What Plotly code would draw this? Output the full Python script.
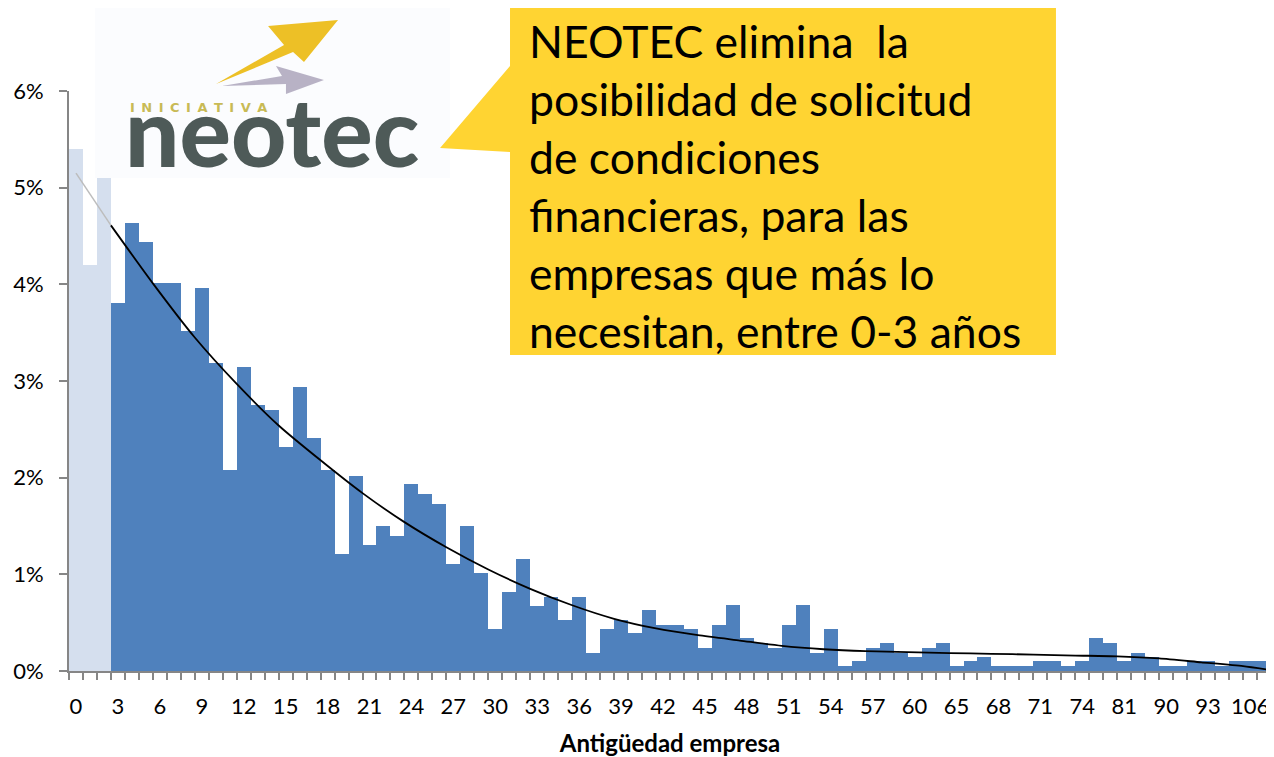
import plotly.graph_objects as go

# company age (years) for each bar, and share of companies (%)
ages = list(range(0, 63)) + [65, 66, 67, 68, 69, 70, 71, 72, 73, 74, 76, 78, 81,
                             83, 86, 90, 91, 92, 93, 96, 100, 106, 110]
share = [5.40, 4.20, 5.10, 3.81, 4.63, 4.44, 4.01, 4.01, 3.52, 3.96,
         3.19, 2.08, 3.14, 2.75, 2.70, 2.32, 2.94, 2.41, 2.08, 1.21,
         2.02, 1.30, 1.50, 1.40, 1.93, 1.83, 1.73, 1.11, 1.50, 1.01,
         0.43, 0.82, 1.16, 0.67, 0.77, 0.53, 0.77, 0.19, 0.43, 0.53,
         0.39, 0.63, 0.48, 0.48, 0.43, 0.24, 0.48, 0.68, 0.34, 0.29,
         0.24, 0.48, 0.68, 0.19, 0.43, 0.05, 0.10, 0.24, 0.29, 0.19,
         0.14, 0.24, 0.29, 0.05, 0.10, 0.14, 0.05, 0.05, 0.05, 0.10,
         0.10, 0.05, 0.10, 0.34, 0.29, 0.10, 0.19, 0.14, 0.05, 0.05,
         0.10, 0.10, 0.05, 0.10, 0.10, 0.10]
tick_ages = [0, 3, 6, 9, 12, 15, 18, 21, 24, 27, 30, 33, 36, 39, 42, 45, 48,
             51, 54, 57, 60, 65, 68, 71, 74, 81, 90, 93, 106]
excluded_max_age = 2  # 0-3 years: no access to NEOTEC

# polynomial trend line as drawn (position in bar units, %)
trend_head_pos = [0, 1.25, 2.5]
trend_head_val = [5.15, 4.88, 4.61]
trend_pos = [2.5, 5.5, 8.5, 11.5, 14.5, 17.5, 20.5, 23.5, 26.5, 29.5, 32.5, 35.5,
             38.5, 41.5, 44.5, 47.5, 50.5, 53.5, 56.5, 59.5, 62.5, 65.5, 68.5,
             71.5, 74.5, 77.5, 80.5, 83.5, 85.2]
trend_val = [4.61, 4.01, 3.45, 2.97, 2.54, 2.18, 1.84, 1.54, 1.28, 1.05, 0.85, 0.68,
             0.54, 0.44, 0.37, 0.315, 0.26, 0.225, 0.205, 0.195, 0.185, 0.178, 0.17,
             0.16, 0.152, 0.13, 0.09, 0.05, 0.015]

callout_lines = ["NEOTEC elimina  la", "posibilidad de solicitud", "de condiciones",
                 "financieras, para las", "empresas que más lo",
                 "necesitan, entre 0-3 años"]

FONT = "Lato, 'Open Sans', sans-serif"
AXIS = "#868686"

# the page body adds an 8px margin, so the figure is drawn 8px in from the corner
OFF = 8
W, H = 1274 - OFF, 757 - OFF
# plot area in page pixels: 69..1271 x 91..671
L, T, PW, PH = 69 - OFF, 91 - OFF, 1202, 580


def px(x):
    return (x - OFF - L) / PW


def py(y):
    return (T + PH - (y - OFF)) / PH


def path(points):
    return "M " + " L ".join(f"{px(x):.4f},{py(y):.4f}" for x, y in points) + " Z"


pos = list(range(len(ages)))
colors = ["#D5DFEE" if a <= excluded_max_age else "#4F81BD" for a in ages]

fig = go.Figure()
fig.add_trace(go.Bar(x=pos, y=share, marker=dict(color=colors, line_width=0),
                     hoverinfo="skip", showlegend=False))
fig.add_trace(go.Scatter(x=trend_head_pos, y=trend_head_val, mode="lines",
                         line=dict(color="#BDBDBD", width=1.5), showlegend=False))
fig.add_trace(go.Scatter(x=trend_pos, y=trend_val, mode="lines",
                         line=dict(color="black", width=1.8, shape="spline", smoothing=0.6),
                         showlegend=False))

shapes = [
    # logo background
    dict(type="rect", xref="paper", yref="paper", x0=px(95), x1=px(450), y0=py(178), y1=py(OFF),
         fillcolor="#FBFCFE", line_width=0, layer="above"),
    # yellow arrow
    dict(type="path", xref="paper", yref="paper", layer="above", line_width=0,
         fillcolor="#EDC026",
         path=path([(216, 84), (284, 45), (268, 26), (338, 20), (304, 62), (293, 52)])),
    # grey arrow
    dict(type="path", xref="paper", yref="paper", layer="above", line_width=0,
         fillcolor="#ABA5BB", opacity=0.85,
         path=path([(222, 86), (282, 76), (276, 66), (324, 80), (286, 94), (286, 84)])),
    # callout
    dict(type="path", xref="paper", yref="paper", layer="above", line_width=0,
         fillcolor="#FFD432",
         path=path([(510, 8), (1056, 8), (1056, 355), (510, 355), (510, 152),
                    (440, 148), (510, 66)])),
]

annotations = [
    dict(text="<b>" + "\u2002".join("INICIATIVA") + "</b>", xref="paper", yref="paper",
         x=px(128), y=py(107), xanchor="left", yanchor="middle", showarrow=False,
         font=dict(family="DejaVu Sans", size=13, color="#C8BA55")),
    dict(text="neotec", xref="paper", yref="paper", x=px(123), y=py(129.5),
         xanchor="left", yanchor="middle", showarrow=False,
         font=dict(family="Lato", size=96, weight=900, color="#4E5A58")),
]
for i, line in enumerate(callout_lines):
    annotations.append(dict(text=line, xref="paper", yref="paper", x=px(527),
                            y=py(41 + 57.8 * i), xanchor="left", yanchor="middle",
                            showarrow=False, font=dict(family=FONT, size=44.5, color="black")))

fig.update_layout(
    width=W, height=H,
    margin=dict(l=L, r=W - L - PW, t=T, b=H - T - PH, autoexpand=False),
    paper_bgcolor="white", plot_bgcolor="white",
    bargap=0,
    font=dict(family=FONT, size=22, color="black"),
    shapes=shapes, annotations=annotations,
    xaxis=dict(
        range=[-0.5, len(ages) - 0.5],
        tickvals=[ages.index(a) for a in tick_ages],
        ticktext=[str(a) for a in tick_ages],
        ticks="", showgrid=False, zeroline=False, automargin=False,
        showline=True, linecolor=AXIS, linewidth=2,
        ticklabelstandoff=15,
        minor=dict(ticks="outside", tick0=-0.5, dtick=1, ticklen=7, tickcolor=AXIS,
                   tickwidth=2, showgrid=False),
        title=dict(text="<b>Antigüedad empresa</b>", font=dict(size=24), standoff=22),
    ),
    yaxis=dict(
        range=[0, 6], dtick=1, ticksuffix="%", automargin=False,
        ticks="outside", ticklen=8, tickcolor=AXIS, tickwidth=2,
        showgrid=False, zeroline=False,
        showline=True, linecolor=AXIS, linewidth=2,
        ticklabelstandoff=11,
    ),
)

fig.write_html("out.html")
